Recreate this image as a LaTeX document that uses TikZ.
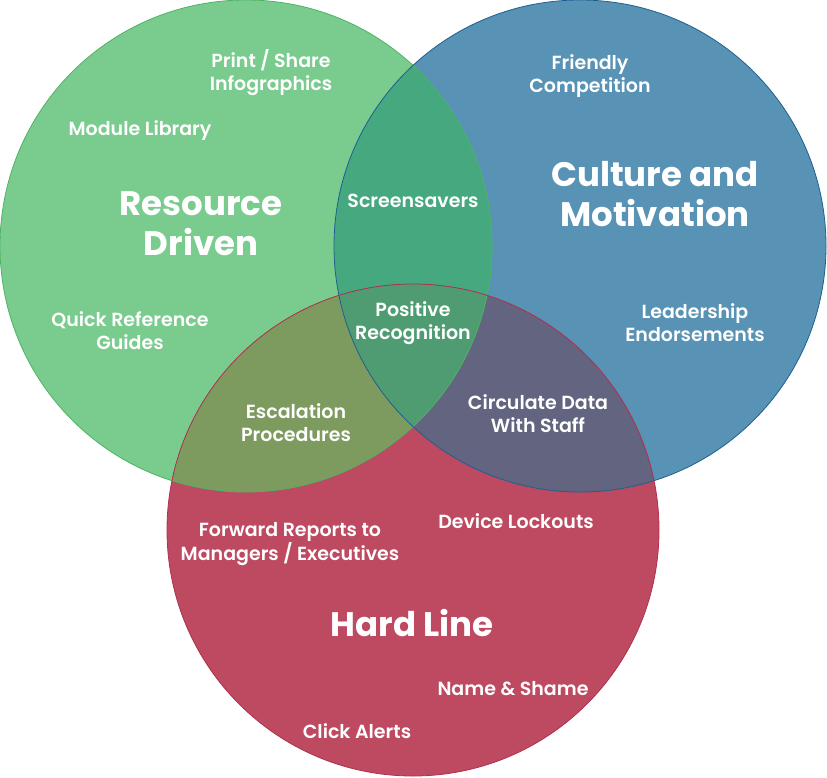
\documentclass[tikz,border=0pt]{standalone}
\usepackage{fontspec}
\setmainfont{Poppins}
\newfontfamily\semifont{Poppins SemiBold}
\usepackage{tikz}
\definecolor{gOnly}{HTML}{7ACB8E}
\definecolor{bOnly}{HTML}{5892B4}
\definecolor{rOnly}{HTML}{BD4A60}
\definecolor{gb}{HTML}{46A87F}
\definecolor{gr}{HTML}{7E9B5F}
\definecolor{br}{HTML}{626480}
\definecolor{gbr}{HTML}{4F9C73}
\definecolor{gEdge}{HTML}{4CB464}
\definecolor{bEdge}{HTML}{1E6090}
\definecolor{rEdge}{HTML}{B0304F}
\tikzset{
	x=1pt, y=-1pt,
	item/.style={text=white, align=center, font=\semifont\fontsize{19}{23}\selectfont, inner sep=0pt},
	title/.style={text=white, align=center, font=\bfseries\fontsize{34}{40}\selectfont, inner sep=0pt}}

\begin{document}
\begin{tikzpicture}
		\useasboundingbox (0,0) rectangle (827,777);
		\def\green{(246,246) circle (246)}
		\def\blue{(580,246) circle (246)}
		\def\red{(413,530) circle (246)}
		
		\fill[gOnly] \green;
		\fill[bOnly] \blue;
		\fill[rOnly] \red;
		\begin{scope}
			\clip \green; \fill[gb] \blue;
		\end{scope}
		\begin{scope}
			\clip \green; \fill[gr] \red;
		\end{scope}
		\begin{scope}
			\clip \blue; \fill[br] \red;
		\end{scope}
		\begin{scope}
			\clip \green; \clip \blue; \fill[gbr] \red;
		\end{scope}
		\draw[gEdge, line width=0.8] \green;
		\draw[bEdge, line width=0.8] \blue;
		\draw[rEdge, line width=0.8] \red;
		
		\node[title] (resource) at (201,224) {Resource\\Driven};
		\node[title] (culture) at (655,194) {Culture and\\Motivation};
		\node[title] (hardline) at (412,623) {Hard Line};
		
		\node[item] (print) at (271,73) {Print / Share\\Infographics};
		\node[item] (module) at (140,131) {Module Library};
		\node[item] (quickref) at (130,331) {Quick Reference\\Guides};
		\node[item] (screen) at (413,201) {Screensavers};
		\node[item] (friendly) at (590,76) {Friendly\\Competition};
		\node[item] (leader) at (695,323) {Leadership\\Endorsements};
		\node[item] (positive) at (413,323) {Positive\\Recognition};
		\node[item] (escal) at (296,423) {Escalation\\Procedures};
		\node[item] (circulate) at (538,414) {Circulate Data\\With Staff};
		\node[item] (forward) at (290,544) {Forward Reports to\\Managers / Executives};
		\node[item] (device) at (516,521) {Device Lockouts};
		\node[item] (nameshame) at (513,689) {Name \& Shame};
		\node[item] (click) at (357,731) {Click Alerts};
	\end{tikzpicture}
\end{document}
